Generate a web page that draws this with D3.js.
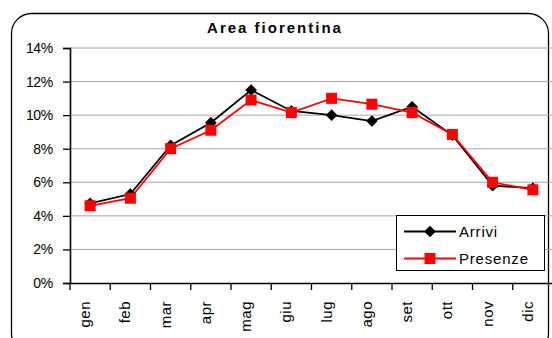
<!DOCTYPE html>
<html>
<head>
<meta charset="utf-8">
<script src="https://cdn.jsdelivr.net/npm/d3@7"></script>
<style>
  body { margin: 0; background: #fff; }
  svg { display: block; font-family: Arial, "Liberation Sans", sans-serif; }
</style>
</head>
<body>
<svg width="552" height="338"></svg>
<script>
const months = ["gen", "feb", "mar", "apr", "mag", "giu", "lug", "ago", "set", "ott", "nov", "dic"];
const arrivi = [4.75, 5.3, 8.2, 9.55, 11.5, 10.25, 10.0, 9.65, 10.5, 8.8, 5.8, 5.65];
const presenze = [4.6, 5.05, 8.0, 9.1, 10.9, 10.15, 11.0, 10.65, 10.15, 8.85, 6.0, 5.55];
const yTicks = [0, 2, 4, 6, 8, 10, 12, 14];

const svg = d3.select("svg");
const margin = { top: 48, right: -1, bottom: 55, left: 70 };
const width = 552, height = 338;

// cornice arrotondata
svg.append("rect")
   .attr("x", 11.5).attr("y", 13.5)
   .attr("width", 537).attr("height", 340)
   .attr("rx", 20)
   .attr("fill", "white")
   .attr("stroke", "black")
   .attr("stroke-width", 1.3);

const x = d3.scaleBand()
            .domain(months)
            .range([margin.left, width - margin.right]);

const y = d3.scaleLinear()
            .domain([0, 14])
            .range([height - margin.bottom, margin.top]);

// griglia
svg.append("g")
   .selectAll("line")
   .data(yTicks.filter(d => d > 0))
   .enter()
   .append("line")
   .attr("x1", margin.left).attr("x2", width)
   .attr("y1", d => y(d)).attr("y2", d => y(d))
   .attr("stroke", "#a6a6a6")
   .attr("stroke-width", 1);

// asse Y
const yAxis = svg.append("g")
   .attr("transform", `translate(${margin.left},0)`)
   .call(d3.axisLeft(y).tickValues(yTicks).tickSize(7).tickPadding(10).tickFormat(d => d + "%"));
yAxis.select(".domain").attr("stroke-width", 1.6);
yAxis.selectAll(".tick line").attr("stroke-width", 1.3);
yAxis.selectAll("text").style("font-size", "14px").attr("fill", "black").attr("letter-spacing", "-0.3px");

// asse X
const xAxis = svg.append("g")
   .attr("transform", `translate(0,${y(0)})`)
   .call(d3.axisBottom(x).tickSize(0).tickFormat(""));
xAxis.select(".domain").attr("stroke-width", 1.6);
xAxis.selectAll(".tick").remove();

svg.append("g")
   .selectAll("line")
   .data(months)
   .enter()
   .append("line")
   .attr("x1", d => x(d)).attr("x2", d => x(d))
   .attr("y1", y(0)).attr("y2", y(0) + 7)
   .attr("stroke", "black")
   .attr("stroke-width", 1.3);

svg.append("g")
   .selectAll("text")
   .data(months)
   .enter()
   .append("text")
   .attr("transform", d => `translate(${x(d) + x.bandwidth() / 2},301) rotate(-90)`)
   .attr("text-anchor", "end")
   .attr("letter-spacing", "0.5px")
   .style("font-size", "15px")
   .text(d => d);

const line = d3.line()
               .x((d, i) => x(months[i]) + x.bandwidth() / 2)
               .y(d => y(d));

// Arrivi
svg.append("path")
   .datum(arrivi)
   .attr("d", line)
   .attr("fill", "none")
   .attr("stroke", "black")
   .attr("stroke-width", 1.8);

// Presenze
svg.append("path")
   .datum(presenze)
   .attr("d", line)
   .attr("fill", "none")
   .attr("stroke", "#ff0000")
   .attr("stroke-width", 1.8);

const diamond = d3.symbol().type(d3.symbolSquare).size(68);

svg.selectAll(".arr")
   .data(arrivi)
   .enter()
   .append("path")
   .attr("class", "arr")
   .attr("d", diamond)
   .attr("transform", (d, i) => `translate(${x(months[i]) + x.bandwidth() / 2},${y(d)}) rotate(45)`)
   .attr("fill", "black");

svg.selectAll(".pre")
   .data(presenze)
   .enter()
   .append("rect")
   .attr("class", "pre")
   .attr("x", (d, i) => x(months[i]) + x.bandwidth() / 2 - 5.5)
   .attr("y", d => y(d) - 5.5)
   .attr("width", 11).attr("height", 11)
   .attr("fill", "#ff0000");

// titolo
svg.append("text")
   .attr("x", 275)
   .attr("y", 33)
   .attr("text-anchor", "middle")
   .attr("letter-spacing", "2px")
   .style("font-size", "15px")
   .style("font-weight", "bold")
   .text("Area fiorentina");

// legenda
const leg = svg.append("g");
leg.append("rect")
   .attr("x", 396.5).attr("y", 215.5)
   .attr("width", 148).attr("height", 55)
   .attr("fill", "white")
   .attr("stroke", "black")
   .attr("stroke-width", 1);

const legItems = [
  { name: "Arrivi", color: "black", y: 231.5 },
  { name: "Presenze", color: "#ff0000", y: 258.5 }
];
legItems.forEach((it, i) => {
  leg.append("line")
     .attr("x1", 404).attr("x2", 456)
     .attr("y1", it.y).attr("y2", it.y)
     .attr("stroke", it.color)
     .attr("stroke-width", 1.8);
  if (i === 0) {
    leg.append("path")
       .attr("d", diamond)
       .attr("transform", `translate(430,${it.y}) rotate(45)`)
       .attr("fill", "black");
  } else {
    leg.append("rect")
       .attr("x", 424.5).attr("y", it.y - 5.5)
       .attr("width", 11).attr("height", 11)
       .attr("fill", "#ff0000");
  }
  leg.append("text")
     .attr("x", 459)
     .attr("y", it.y + 5.5)
     .attr("letter-spacing", "0.8px")
     .style("font-size", "15px")
     .text(it.name);
});
</script>
</body>
</html>
